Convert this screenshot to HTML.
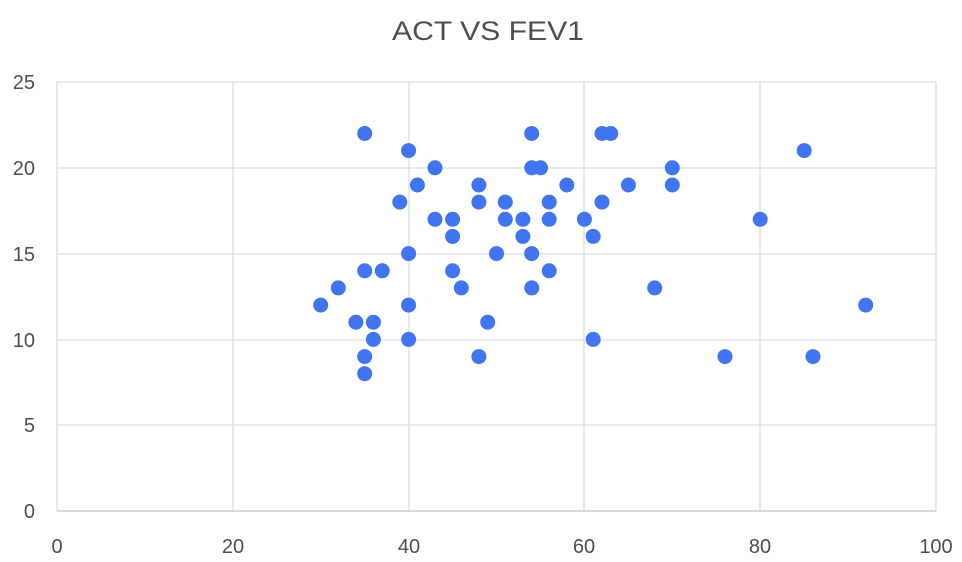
<!DOCTYPE html>
<html><head><style>html,body{margin:0;padding:0;background:#fff;}svg{display:block}</style></head>
<body>
<svg width="962" height="562" xmlns="http://www.w3.org/2000/svg" font-family="Liberation Sans, sans-serif">
<rect width="962" height="562" fill="#fff"/>
<text x="488" y="40" text-anchor="middle" font-size="27" fill="#4a4f4f" textLength="192" lengthAdjust="spacingAndGlyphs">ACT VS FEV1</text>
<g stroke="#d9dfdf" stroke-width="1.3">
<line x1="57" y1="82" x2="936" y2="82"/><line x1="57" y1="168" x2="936" y2="168"/><line x1="57" y1="254" x2="936" y2="254"/><line x1="57" y1="340" x2="936" y2="340"/><line x1="57" y1="425" x2="936" y2="425"/>
<line x1="57" y1="82" x2="57" y2="511"/><line x1="233" y1="82" x2="233" y2="511"/><line x1="409" y1="82" x2="409" y2="511"/><line x1="584" y1="82" x2="584" y2="511"/><line x1="760" y1="82" x2="760" y2="511"/><line x1="936" y1="82" x2="936" y2="511"/>
</g>
<line x1="57" y1="511" x2="936" y2="511" stroke="#c8d0d0" stroke-width="1.5"/>
<g font-size="20" fill="#4a4f4f" text-anchor="end">
<text x="35" y="89">25</text><text x="35" y="175">20</text><text x="35" y="261">15</text><text x="35" y="347">10</text><text x="35" y="432">5</text><text x="35" y="518">0</text>
</g>
<g font-size="20" fill="#4a4f4f" text-anchor="middle">
<text x="57" y="553">0</text><text x="233" y="553">20</text><text x="409" y="553">40</text><text x="584" y="553">60</text><text x="760" y="553">80</text><text x="936" y="553">100</text>
</g>
<g fill="#4174f0">
<circle cx="364.7" cy="133.5" r="7.5"/>
<circle cx="408.6" cy="150.6" r="7.5"/>
<circle cx="435" cy="167.8" r="7.5"/>
<circle cx="417.4" cy="185" r="7.5"/>
<circle cx="399.8" cy="202.1" r="7.5"/>
<circle cx="435" cy="219.3" r="7.5"/>
<circle cx="452.6" cy="219.3" r="7.5"/>
<circle cx="452.6" cy="236.4" r="7.5"/>
<circle cx="408.6" cy="253.6" r="7.5"/>
<circle cx="364.7" cy="270.8" r="7.5"/>
<circle cx="382.2" cy="270.8" r="7.5"/>
<circle cx="452.6" cy="270.8" r="7.5"/>
<circle cx="461.3" cy="287.9" r="7.5"/>
<circle cx="338.3" cy="287.9" r="7.5"/>
<circle cx="320.7" cy="305.1" r="7.5"/>
<circle cx="408.6" cy="305.1" r="7.5"/>
<circle cx="355.9" cy="322.2" r="7.5"/>
<circle cx="373.4" cy="322.2" r="7.5"/>
<circle cx="373.4" cy="339.4" r="7.5"/>
<circle cx="408.6" cy="339.4" r="7.5"/>
<circle cx="364.7" cy="356.6" r="7.5"/>
<circle cx="364.7" cy="373.7" r="7.5"/>
<circle cx="478.9" cy="185" r="7.5"/>
<circle cx="478.9" cy="202.1" r="7.5"/>
<circle cx="505.3" cy="202.1" r="7.5"/>
<circle cx="505.3" cy="219.3" r="7.5"/>
<circle cx="522.9" cy="219.3" r="7.5"/>
<circle cx="522.9" cy="236.4" r="7.5"/>
<circle cx="496.5" cy="253.6" r="7.5"/>
<circle cx="531.7" cy="253.6" r="7.5"/>
<circle cx="549.2" cy="270.8" r="7.5"/>
<circle cx="531.7" cy="287.9" r="7.5"/>
<circle cx="487.7" cy="322.2" r="7.5"/>
<circle cx="478.9" cy="356.6" r="7.5"/>
<circle cx="531.7" cy="133.5" r="7.5"/>
<circle cx="531.7" cy="167.8" r="7.5"/>
<circle cx="540.5" cy="167.8" r="7.5"/>
<circle cx="566.8" cy="185" r="7.5"/>
<circle cx="549.2" cy="202.1" r="7.5"/>
<circle cx="549.2" cy="219.3" r="7.5"/>
<circle cx="584.4" cy="219.3" r="7.5"/>
<circle cx="593.2" cy="236.4" r="7.5"/>
<circle cx="602" cy="202.1" r="7.5"/>
<circle cx="602" cy="133.5" r="7.5"/>
<circle cx="610.8" cy="133.5" r="7.5"/>
<circle cx="628.4" cy="185" r="7.5"/>
<circle cx="672.3" cy="167.8" r="7.5"/>
<circle cx="672.3" cy="185" r="7.5"/>
<circle cx="654.7" cy="287.9" r="7.5"/>
<circle cx="593.2" cy="339.4" r="7.5"/>
<circle cx="725" cy="356.6" r="7.5"/>
<circle cx="760.2" cy="219.3" r="7.5"/>
<circle cx="804.2" cy="150.6" r="7.5"/>
<circle cx="813" cy="356.6" r="7.5"/>
<circle cx="865.7" cy="305.1" r="7.5"/>
</g>
</svg>
</body></html>
